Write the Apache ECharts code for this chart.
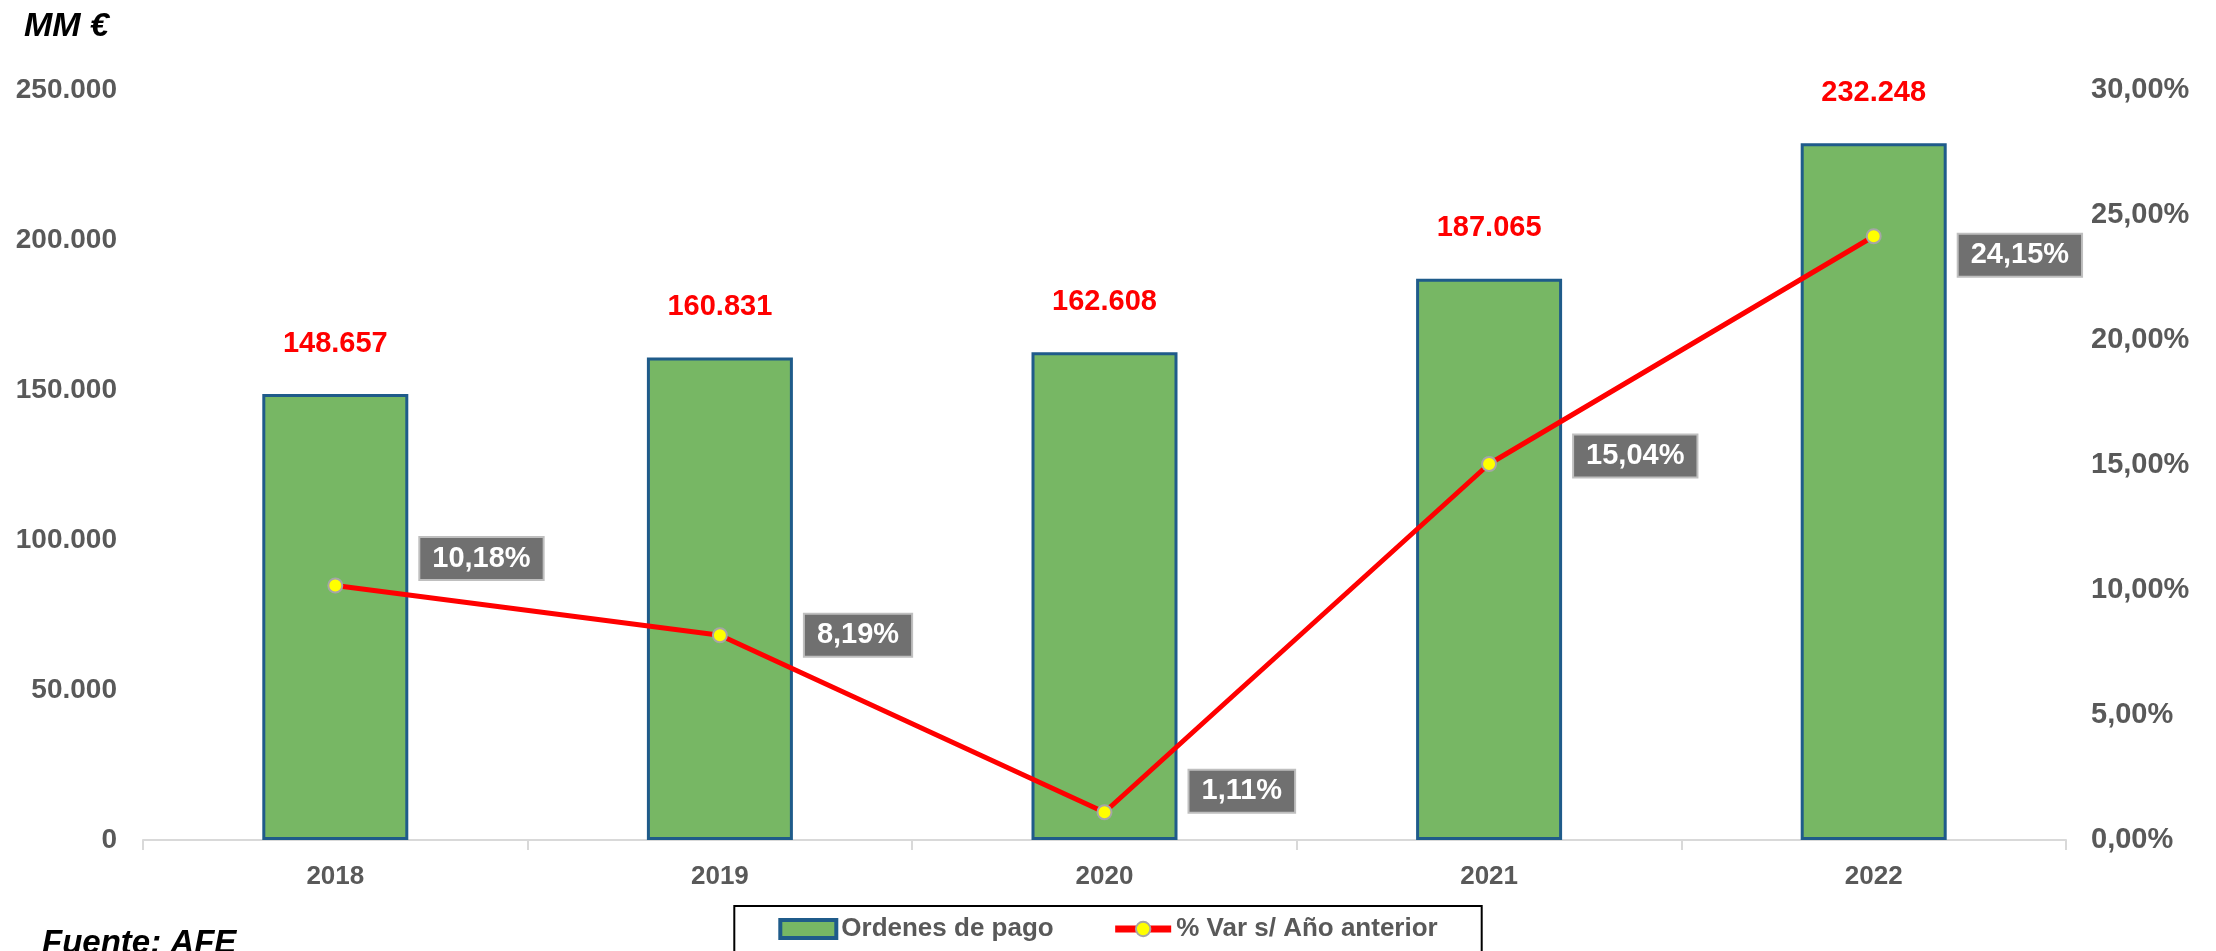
<!DOCTYPE html>
<html>
<head>
<meta charset="utf-8">
<script src="https://cdn.jsdelivr.net/npm/echarts@6/dist/echarts.min.js"></script>
<style>
  html, body { margin: 0; padding: 0; background: #fff; }
  #chart { width: 2216px; height: 951px; }
</style>
</head>
<body>
<div id="chart"></div>
<script>
// datos del gráfico
const years = ['2018', '2019', '2020', '2021', '2022']
const ordenesPago = [148657, 160831, 162608, 187065, 232248]
const varAnual = [10.18, 8.19, 1.11, 15.04, 24.15]

// ajuste vertical de cada etiqueta de % (px), solo estilo
const ajusteEtiqueta = [-27, 0, -21, -8, 19]

const fmtMiles = v => String(v).replace(/\B(?=(\d{3})+(?!\d))/g, '.')
const fmtPct = v => v.toFixed(2).replace('.', ',') + '%'

const gris = '#595959'
const fuente = 'Liberation Sans, Arial, sans-serif'

const chart = echarts.init(document.getElementById('chart'))

chart.setOption({
  backgroundColor: '#fff',
  animation: false,
  textStyle: { fontFamily: fuente },
  graphic: [
    { type: 'text', left: 24, top: 10, style: { text: 'MM €', font: 'italic bold 34px ' + fuente, fill: '#000' } },
    { type: 'text', left: 42, top: 927, style: { text: 'Fuente: AFE', font: 'italic bold 33px ' + fuente, fill: '#000' } }
  ],
  legend: {
    top: 906,
    left: 'center',
    padding: [10, 44, 20, 44],
    borderColor: '#000',
    borderWidth: 2,
    itemGap: 58,
    itemWidth: 56,
    itemHeight: 18,
    textStyle: { color: gris, fontSize: 26, fontWeight: 'bold', fontFamily: fuente },
    data: [
      { name: 'Ordenes de pago', icon: 'rect', itemStyle: { borderWidth: 4 } },
      { name: '% Var s/ Año anterior', lineStyle: { width: 7 } }
    ]
  },
  grid: { left: 143, right: 150, top: 90, bottom: 111 },
  xAxis: {
    type: 'category',
    data: years,
    axisLine: { lineStyle: { color: '#D9D9D9', width: 2 } },
    axisTick: { show: true, length: 10, lineStyle: { color: '#D9D9D9', width: 2 } },
    axisLabel: { color: gris, fontSize: 26, fontWeight: 'bold', margin: 24 }
  },
  yAxis: [
    {
      type: 'value', min: 0, max: 250000, interval: 50000,
      splitLine: { show: false },
      axisLabel: { color: gris, fontSize: 28, fontWeight: 'bold', margin: 26, formatter: fmtMiles }
    },
    {
      type: 'value', min: 0, max: 30, interval: 5,
      splitLine: { show: false },
      axisLabel: { color: gris, fontSize: 29, fontWeight: 'bold', margin: 25, formatter: v => fmtPct(v) }
    }
  ],
  series: [
    {
      name: 'Ordenes de pago',
      type: 'bar',
      data: ordenesPago,
      barWidth: 146,
      itemStyle: { color: '#77B764', borderColor: '#1F5B8A', borderWidth: 3 },
      label: {
        show: true, position: 'top', distance: 36,
        color: '#FF0000', fontSize: 29, fontWeight: 'bold',
        formatter: p => fmtMiles(p.value)
      }
    },
    {
      name: '% Var s/ Año anterior',
      type: 'line',
      yAxisIndex: 1,
      data: varAnual.map((v, i) => ({ value: v, label: { offset: [0, ajusteEtiqueta[i]] } })),
      symbol: 'circle',
      symbolSize: 14,
      lineStyle: { color: '#FF0000', width: 5 },
      itemStyle: { color: '#FFFF00', borderColor: '#A6A6A6', borderWidth: 2 },
      label: {
        show: true, position: 'right', distance: 77,
        color: '#fff', fontSize: 29, fontWeight: 'bold',
        backgroundColor: '#707070', borderColor: '#BFBFBF', borderWidth: 2,
        padding: [7, 12, 5, 12],
        formatter: p => fmtPct(p.value)
      },
      z: 3
    }
  ]
})
</script>
</body>
</html>
